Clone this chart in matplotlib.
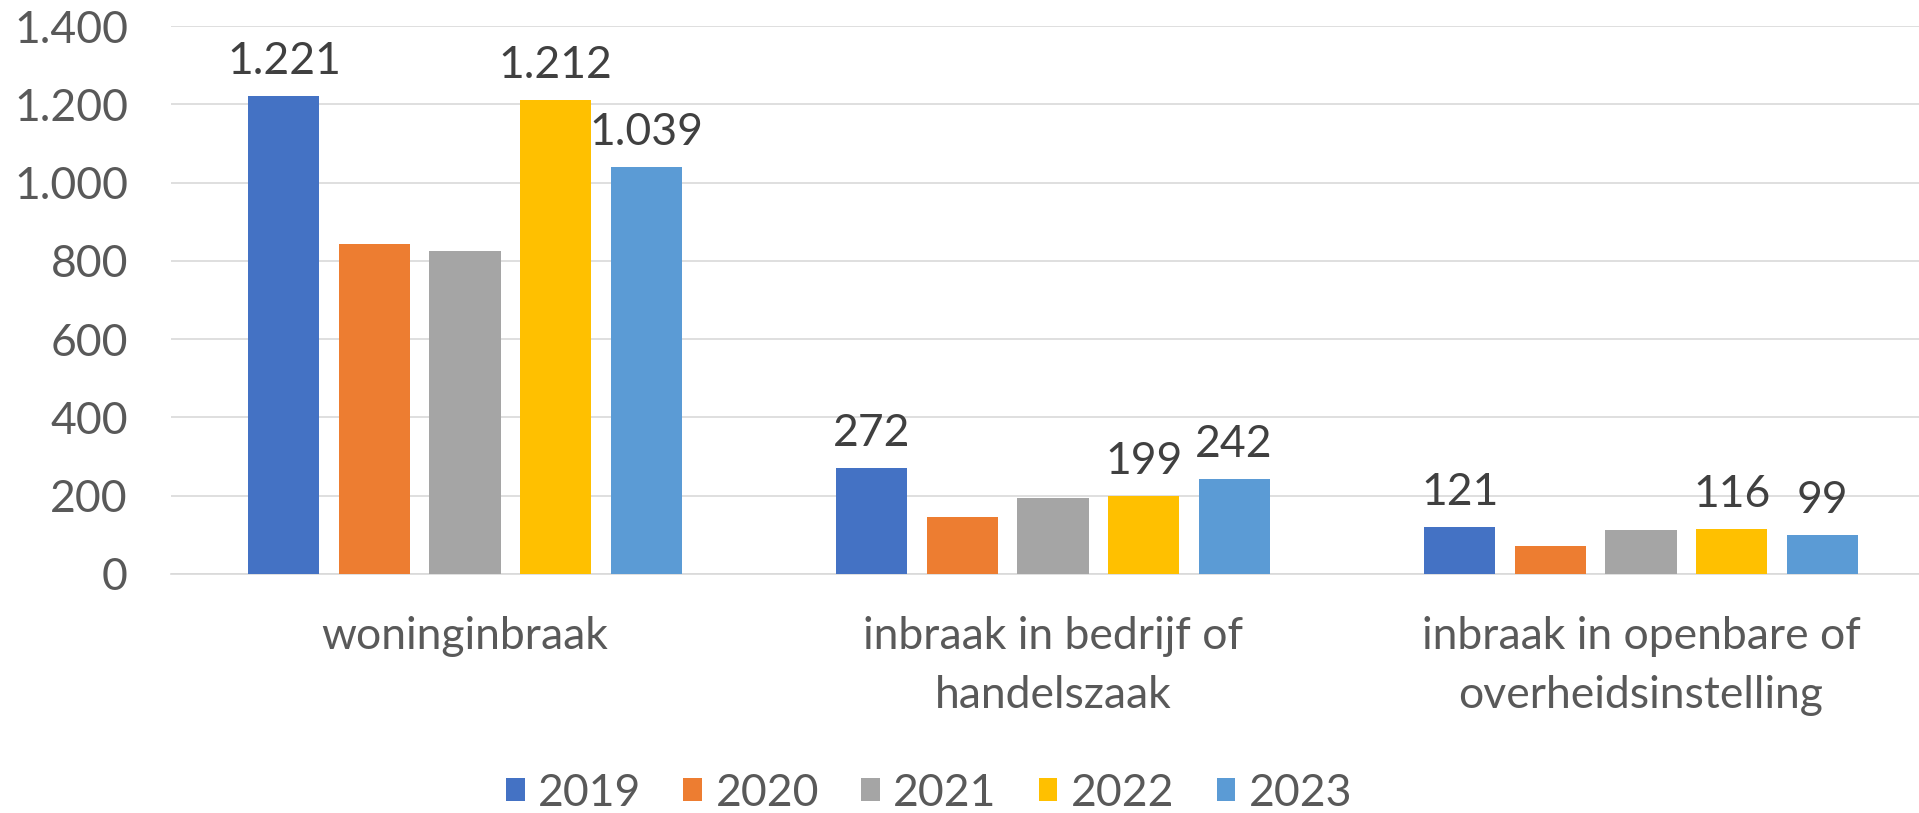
import numpy as np
import matplotlib
matplotlib.use("Agg")
import matplotlib.pyplot as plt
from matplotlib.patches import Patch

plt.rcParams['font.family'] = ['Lato', 'DejaVu Sans']

categories = ["woninginbraak", "inbraak in bedrijf of\nhandelszaak",
              "inbraak in openbare of\noverheidsinstelling"]
years = ["2019", "2020", "2021", "2022", "2023"]
values = {
    "2019": [1221, 272, 121],
    "2020": [842, 146, 72],
    "2021": [825, 194, 113],
    "2022": [1212, 199, 116],
    "2023": [1039, 242, 99],
}
labelled = ["2019", "2022", "2023"]
colors = ["#4472C4", "#ED7D31", "#A5A5A5", "#FFC000", "#5B9BD5"]
yticks = [0, 200, 400, 600, 800, 1000, 1200, 1400]

fs = 32
fig = plt.figure(figsize=(19.19, 8.13), dpi=100)
ax = fig.add_axes([171 / 1919, 239 / 813, 1764 / 1919, 548 / 813])

x = np.arange(len(categories))
pitch = 0.154
width = 0.121
for i, (yr, c) in enumerate(zip(years, colors)):
    bars = ax.bar(x + (i - 2) * pitch, values[yr], width=width, color=c, zorder=3)
    if yr in labelled:
        labels = [f"{v:,}".replace(",", ".") for v in values[yr]]
        ax.bar_label(bars, labels=labels, padding=10, fontsize=fs, color="#404040")

ax.set_xlim(-0.5, 2.5)
ax.set_ylim(0, 1400)
ax.set_yticks(yticks)
ax.set_yticklabels([f"{v:,}".replace(",", ".") for v in yticks])
ax.set_xticks(x)
ax.set_xticklabels(categories, linespacing=1.55)
ax.tick_params(axis="y", length=0, pad=31, labelsize=fs, labelcolor="#595959")
ax.tick_params(axis="x", length=0, pad=30, labelsize=fs, labelcolor="#595959")
ax.grid(axis="y", color="#D9D9D9", linewidth=1.2, zorder=0)
for side in ["top", "right", "left"]:
    ax.spines[side].set_visible(False)
ax.spines["bottom"].set_color("#D9D9D9")
ax.spines["bottom"].set_linewidth(1.2)

handles = [Patch(facecolor=c, label=yr) for yr, c in zip(years, colors)]
fig.legend(handles=handles, loc="center", bbox_to_anchor=(929 / 1919, 20 / 813),
           ncol=5, frameon=False, fontsize=fs, labelcolor="#595959",
           handlelength=0.42, handleheight=0.42, handletextpad=0.3,
           columnspacing=0.95)

fig.savefig("out.png", dpi=100)
